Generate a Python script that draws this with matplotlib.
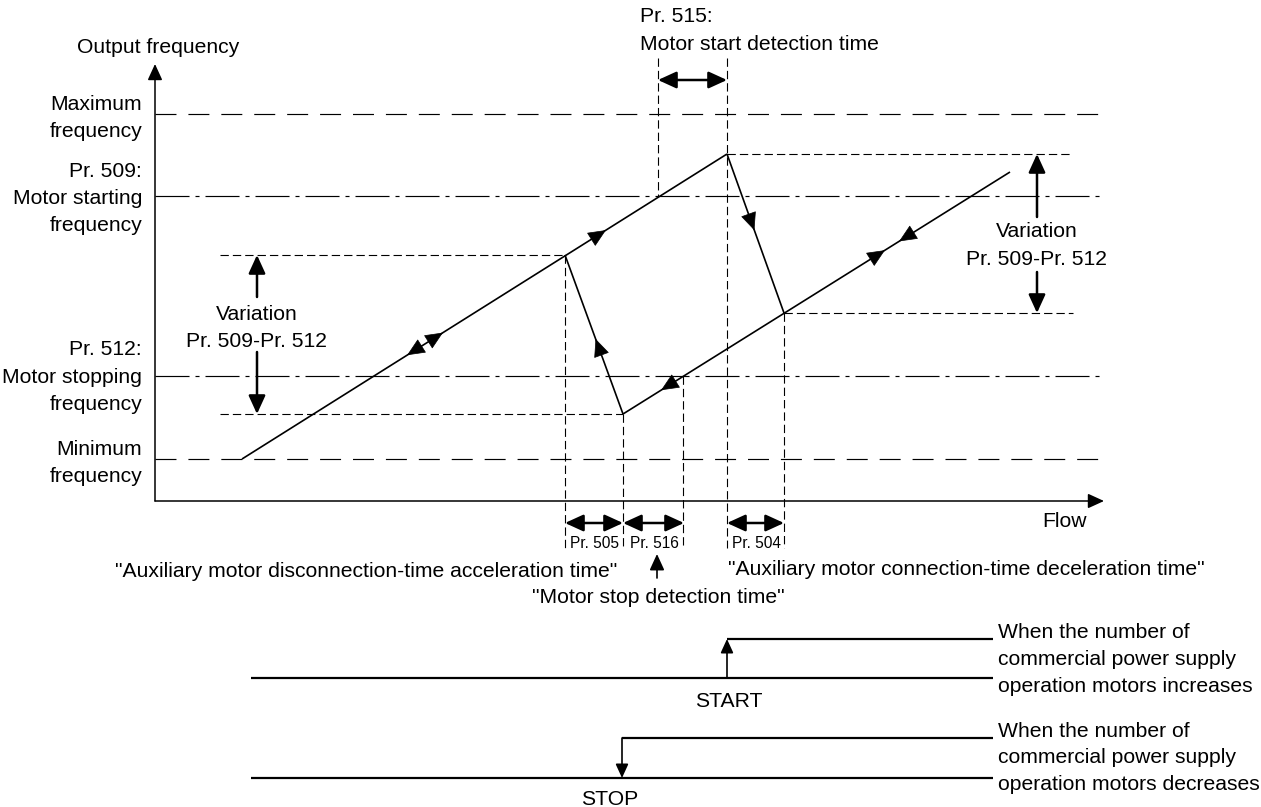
import matplotlib
matplotlib.use("Agg")
import matplotlib.pyplot as plt
import numpy as np

plt.rcParams['font.family'] = ['Liberation Sans', 'DejaVu Sans']
plt.rcParams['lines.scale_dashes'] = False

# ---------------- data (diagram coordinates) ----------------
# frequency reference levels (y) and their styles
level_y = [114, 196, 376, 459]
level_style = ['long', 'dashdot', 'dashdot', 'long']
level_x_range = [155, 1102]

# left-hand level labels: (text, baseline y)
left_labels = ["Maximum", "frequency", "Pr. 509:", "Motor starting", "frequency",
               "Pr. 512:", "Motor stopping", "frequency", "Minimum", "frequency"]
left_label_y = [110, 137, 177, 204, 231, 355, 383, 410, 455, 482]

# output frequency path segments (flow x, frequency y)
seg_up_x, seg_up_y = [242, 727], [459, 154]          # rising with one motor set
seg_disc_x, seg_disc_y = [565, 623], [255, 414]      # auxiliary motor disconnection
seg_conn_x, seg_conn_y = [727, 784], [154, 313]      # auxiliary motor connection
seg_low_x, seg_low_y = [623, 1010], [414, 172]       # after change

# direction marks on the path: (segment, x centre, direction +1 along / -1 against)
marks = [("up", 413, -1), ("up", 437, +1), ("up", 600, +1),
         ("conn", 752, +1), ("disc", 598, -1),
         ("low", 667, -1), ("low", 879, +1), ("low", 905, -1)]

# auxiliary horizontal guides: (y, x0, x1)
guides_h = [(255, 220, 565), (414, 220, 623), (154, 727, 1073), (313, 784, 1073)]
# vertical guides: (x, y0, y1)
guides_v = [(658, 58, 196), (727, 58, 548), (565, 255, 548), (623, 414, 548),
            (683, 376, 548), (784, 313, 548)]

# time brackets: (x0, x1, label)
brackets = [(565, 623, "Pr. 505"), (623, 684, "Pr. 516"), (727, 784, "Pr. 504")]

# start/stop signals: (low y, high y, step x, label, label x, label baseline)
signals = [(678, 639, 727, "START", 729, 707),
           (778, 738, 622, "STOP", 610, 805)]
signal_x = [251, 993]
signal_text = [["When the number of", "commercial power supply", "operation motors increases"],
               ["When the number of", "commercial power supply", "operation motors decreases"]]
signal_text_y = [[638, 665, 692], [737, 763, 790]]

# ---------------- drawing ----------------
fig = plt.figure(figsize=(12.61, 8.07), dpi=100)
ax = fig.add_axes([0, 0, 1, 1])
ax.set_xlim(0, 1261)
ax.set_ylim(807, 0)
ax.axis('off')

FS = 15.2
K = 'black'
styles = {'long': (0, (15.1, 8.6)),
          'dashdot': (0, (24.5, 4.3, 2.9, 4.3)),
          'short': (0, (6.0, 2.9))}

def arrow(p_from, p_to, lw=1.8, hl=0.7, hw=0.32, ms=16, style='-|>'):
    ax.annotate('', xy=p_to, xytext=p_from,
                arrowprops=dict(arrowstyle=f'{style},head_length={hl},head_width={hw}',
                                lw=lw, color=K, shrinkA=0, shrinkB=0,
                                mutation_scale=ms))

# axes
arrow((155, 501), (155, 64), lw=1.1, ms=14)
arrow((155, 501), (1104, 501), lw=1.1, ms=14)
ax.text(77, 53, "Output frequency", fontsize=FS, ha='left', va='baseline')
ax.text(1042, 527, "Flow", fontsize=FS, ha='left', va='baseline')

# levels
for y, st in zip(level_y, level_style):
    ax.plot(level_x_range, [y, y], color=K, lw=0.85, linestyle=styles[st])
for t, y in zip(left_labels, left_label_y):
    ax.text(142, y, t, fontsize=FS, ha='right', va='baseline')

# guides
for y, x0, x1 in guides_h:
    ax.plot([x0, x1], [y, y], color=K, lw=0.8, linestyle=styles['short'])
for x, y0, y1 in guides_v:
    ax.plot([x, x], [y0, y1], color=K, lw=0.8, linestyle=styles['short'])

# path
segs = {"up": (seg_up_x, seg_up_y), "disc": (seg_disc_x, seg_disc_y),
        "conn": (seg_conn_x, seg_conn_y), "low": (seg_low_x, seg_low_y)}
for sx, sy in segs.values():
    ax.plot(sx, sy, color=K, lw=1.2, solid_capstyle='butt')

for name, xc, d in marks:
    sx, sy = segs[name]
    p0 = np.array([sx[0], sy[0]], float)
    p1 = np.array([sx[1], sy[1]], float)
    t = (xc - p0[0]) / (p1[0] - p0[0])
    pc = p0 + t * (p1 - p0)
    u = (p1 - p0) / np.linalg.norm(p1 - p0) * d
    arrow(tuple(pc - u * 7), tuple(pc + u * 7), lw=0.5, hl=0.9, hw=0.4, ms=13)

# variation arrows
arrow((257, 297), (257, 255), lw=1.8)
arrow((257, 352), (257, 414), lw=1.8)
ax.text(257, 320, "Variation", fontsize=FS, ha='center', va='baseline')
ax.text(257, 347, "Pr. 509-Pr. 512", fontsize=FS, ha='center', va='baseline')
arrow((1037, 217), (1037, 154), lw=1.8)
arrow((1037, 272), (1037, 313), lw=1.8)
ax.text(1037, 237, "Variation", fontsize=FS, ha='center', va='baseline')
ax.text(1037, 265, "Pr. 509-Pr. 512", fontsize=FS, ha='center', va='baseline')

# Pr. 515
arrow((658, 80), (727, 80), lw=1.8, style='<|-|>')
ax.text(640, 22, "Pr. 515:", fontsize=FS, ha='left', va='baseline')
ax.text(640, 50, "Motor start detection time", fontsize=FS, ha='left', va='baseline')

# brackets
for x0, x1, lab in brackets:
    arrow((x0, 523), (x1, 523), lw=1.8, style='<|-|>')
    ax.text((x0 + x1) / 2 + 1, 548, lab, fontsize=11.2, ha='center', va='baseline')

ax.text(366, 577, '"Auxiliary motor disconnection-time acceleration time"',
        fontsize=FS, ha='center', va='baseline')
ax.text(728, 575, '"Auxiliary motor connection-time deceleration time"',
        fontsize=FS, ha='left', va='baseline')
arrow((657, 578), (657, 554), lw=1.2, ms=14)
ax.text(532, 603, '"Motor stop detection time"', fontsize=FS, ha='left', va='baseline')

# start / stop signals
for (ylow, yhigh, xs, lab, lx, ly), lines, ys in zip(signals, signal_text, signal_text_y):
    ax.plot(signal_x, [ylow, ylow], color=K, lw=1.6, solid_capstyle='butt')
    ax.plot([xs, signal_x[1]], [yhigh, yhigh], color=K, lw=1.6, solid_capstyle='butt')
    if lab == "START":
        arrow((xs, ylow), (xs, yhigh), lw=1.2, ms=12)
    else:
        arrow((xs, yhigh), (xs, ylow), lw=1.2, ms=12)
    ax.text(lx, ly, lab, fontsize=FS, ha='center', va='baseline')
    for t, y in zip(lines, ys):
        ax.text(998, y, t, fontsize=FS, ha='left', va='baseline')

fig.savefig("out.png", dpi=100)
